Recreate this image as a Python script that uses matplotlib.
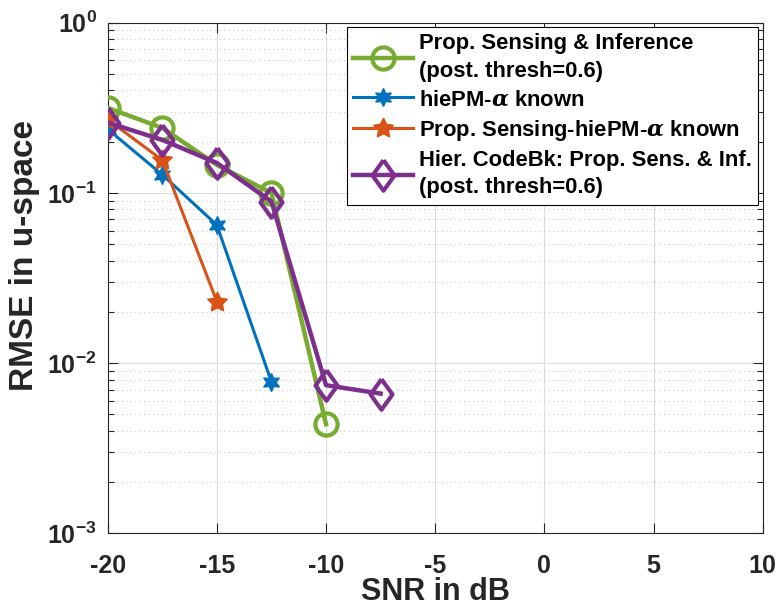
import matplotlib
matplotlib.use("Agg")
import matplotlib.pyplot as plt
from matplotlib.ticker import FixedLocator, FixedFormatter, LogLocator, NullFormatter

plt.rcParams['font.family'] = ['Liberation Sans', 'DejaVu Sans']
plt.rcParams['font.weight'] = 'bold'
plt.rcParams['mathtext.fontset'] = 'custom'
plt.rcParams['mathtext.rm'] = 'Liberation Sans:bold'
plt.rcParams['mathtext.bf'] = 'Liberation Sans:bold'
plt.rcParams['mathtext.it'] = 'DejaVu Serif:italic'

# ---- data ----
snr_green = [-20, -17.5, -15, -12.5, -10]
rmse_green = [0.316, 0.241, 0.146, 0.100, 0.00438]

snr_blue = [-20, -17.5, -15, -12.5]
rmse_blue = [0.237, 0.128, 0.0648, 0.00776]

snr_orange = [-20, -17.5, -15]
rmse_orange = [0.270, 0.156, 0.0230]

snr_purple = [-20, -17.5, -15, -12.5, -10, -7.5]
rmse_purple = [0.259, 0.205, 0.150, 0.089, 0.00743, 0.00663]

labels = ["Prop. Sensing & Inference\n(post. thresh=0.6)",
          r"hiePM-$\alpha$ known",
          r"Prop. Sensing-hiePM-$\alpha$ known",
          "Hier. CodeBk: Prop. Sens. & Inf.\n(post. thresh=0.6)"]

xticks = [-20, -15, -10, -5, 0, 5, 10]
xticklabels = ["-20", "-15", "-10", "-5", "0", "5", "10"]
yticks = [1e-3, 1e-2, 1e-1, 1e0]
yticklabels = [r"$\mathbf{10^{-3}}$", r"$\mathbf{10^{-2}}$", r"$\mathbf{10^{-1}}$", r"$\mathbf{10^{0}}$"]

# ---- style ----
c_green = '#77AC30'
c_blue = '#0072BD'
c_orange = '#D95319'
c_purple = '#7E2F8E'
axc = '#262626'

fig = plt.figure(figsize=(7.8, 6.07), dpi=100)
ax = fig.add_axes([0.1381, 0.1211, 0.8397, 0.8415])

diamond = [(0, 1), (0.72, 0), (0, -1), (-0.72, 0), (0, 1)]

ax.plot(snr_green, rmse_green, color=c_green, lw=3.2, marker='o', ms=16,
        mfc='none', mec=c_green, mew=3, label=labels[0], zorder=3)
ax.plot(snr_blue, rmse_blue, color=c_blue, lw=2.2, marker=(6, 1, 0), ms=13,
        mfc=c_blue, mec=c_blue, mew=1, label=labels[1], zorder=4)
ax.plot(snr_orange, rmse_orange, color=c_orange, lw=2.2, marker=(5, 1, 0), ms=15,
        mfc=c_orange, mec=c_orange, mew=1, label=labels[2], zorder=5)
ax.plot(snr_purple, rmse_purple, color=c_purple, lw=3.2, marker=diamond, ms=22,
        mfc='none', mec=c_purple, mew=3, label=labels[3], zorder=6)

ax.set_yscale('log')
ax.set_xlim(-20, 10)
ax.set_ylim(1e-3, 1e0)

ax.xaxis.set_major_locator(FixedLocator(xticks))
ax.xaxis.set_major_formatter(FixedFormatter(xticklabels))
ax.yaxis.set_major_locator(FixedLocator(yticks))
ax.yaxis.set_major_formatter(FixedFormatter(yticklabels))
ax.yaxis.set_minor_locator(LogLocator(base=10, subs=[2, 3, 4, 5, 6, 7, 8, 9]))
ax.yaxis.set_minor_formatter(NullFormatter())

ax.tick_params(which='both', direction='in', top=True, right=True, colors=axc,
               labelsize=18, width=0.8)
ax.tick_params(which='major', length=7)
ax.tick_params(axis='x', which='major', pad=15)
ax.tick_params(axis='y', which='major', pad=8)
ax.tick_params(which='minor', length=4)
for lab in ax.get_xticklabels() + ax.get_yticklabels():
    lab.set_fontweight('bold')

ax.grid(True, which='major', color='#dcdcdc', lw=0.8, ls='-')
ax.grid(True, which='minor', axis='y', color='#c8c8c8', lw=0.8, ls=(0, (1, 3)))
ax.set_axisbelow(True)

for s in ax.spines.values():
    s.set_color(axc)
    s.set_linewidth(0.8)

ax.set_xlabel("SNR in dB", fontsize=22, fontweight='bold', color=axc, labelpad=-1)
ax.set_ylabel("RMSE in u-space", fontsize=24, fontweight='bold', color=axc)
ax.yaxis.set_label_coords(-0.103, 0.545)

leg = ax.legend(loc='upper right', fontsize=15.8, handlelength=2.7, handletextpad=0.3,
                labelspacing=0.34, borderpad=0.28, borderaxespad=0.2,
                fancybox=False, framealpha=1, edgecolor='black')
leg.get_frame().set_linewidth(0.8)
for t in leg.get_texts():
    t.set_fontweight('bold')
    t.set_linespacing(1.4)

fig.savefig('out.png', dpi=100)
